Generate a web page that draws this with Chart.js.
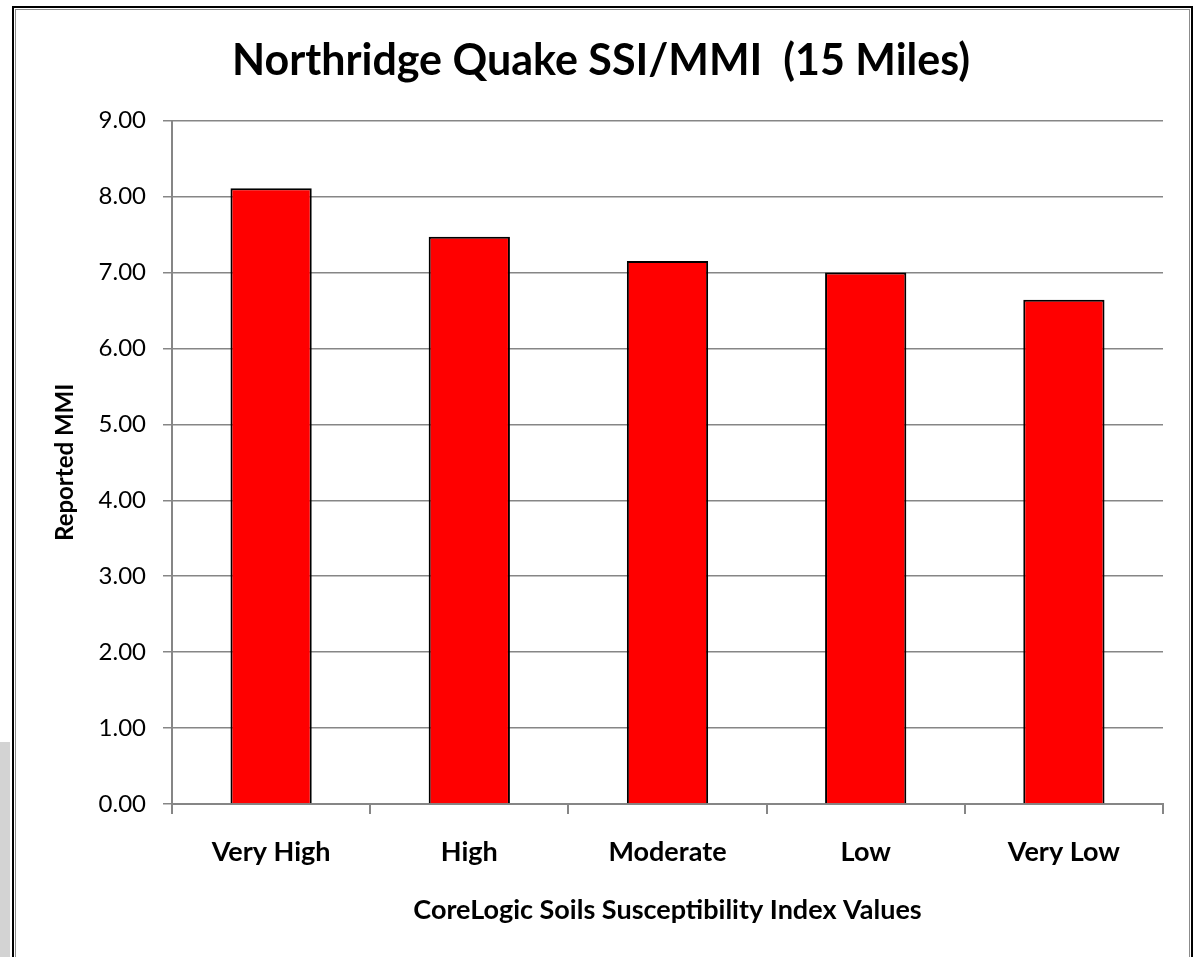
<!DOCTYPE html>
<html>
<head>
<meta charset="utf-8">
<title>Northridge Quake SSI/MMI (15 Miles)</title>
<script src="https://cdn.jsdelivr.net/npm/chart.js@4/dist/chart.umd.min.js"></script>
<style>
  html, body { margin: 0; padding: 0; background: #fff; overflow: hidden; }
  #side { position: absolute; left: 0; top: 742px; width: 10px; height: 215px; background: #d3d3d3; }
  #frame { position: absolute; left: 12px; top: 6px; width: 1177px; height: 1000px; border: 2px solid #000; }
  #frame-inner { position: absolute; left: 1px; top: 1px; right: 1px; bottom: 1px; border: 1px solid #8c8c8c; }
  #wrap { position: absolute; left: 0; top: 0; width: 1197px; height: 957px; }
</style>
</head>
<body>
<div id="side"></div>
<div id="frame"><div id="frame-inner"></div></div>
<div id="wrap"><canvas id="chart"></canvas></div>
<script>
  const categories = ["Very High", "High", "Moderate", "Low", "Very Low"];
  const mmiValues = [8.11, 7.47, 7.15, 7.00, 6.64];
  const yTicks = [0, 1, 2, 3, 4, 5, 6, 7, 8, 9];

  const FONT = "Lato, 'Open Sans', sans-serif";
  const gridGray = "#868686";

  new Chart(document.getElementById("chart"), {
    type: "bar",
    data: {
      labels: categories,
      datasets: [{
        label: "Reported MMI",
        data: mmiValues,
        backgroundColor: "#ff0000",
        borderColor: "#000000",
        borderWidth: 2,
        barPercentage: 0.41,
        categoryPercentage: 1
      }]
    },
    options: {
      responsive: true,
      maintainAspectRatio: false,
      animation: false,
      layout: { padding: { left: 39, right: 34, top: 0, bottom: 0 } },
      plugins: {
        legend: { display: false },
        tooltip: { enabled: false },
        title: {
          display: true,
          text: "Northridge Quake SSI/MMI  (15 Miles)",
          color: "#000",
          font: { family: FONT, size: 43, weight: "bold", lineHeight: 1.2 },
          padding: { top: 35, bottom: 34 }
        }
      },
      scales: {
        x: {
          grid: {
            display: true,
            drawOnChartArea: false,
            drawTicks: true,
            tickLength: 10,
            color: gridGray,
            lineWidth: 2,
            offset: true
          },
          border: { display: true, color: gridGray, width: 2 },
          ticks: {
            color: "#000",
            padding: 22,
            font: { family: FONT, size: 27, weight: "bold", lineHeight: 1.2 }
          },
          title: {
            display: true,
            text: "CoreLogic Soils Susceptibility Index Values",
            color: "#000",
            font: { family: FONT, size: 27, weight: "bold", lineHeight: 1.2 },
            padding: { top: 0, bottom: 31 }
          },
          afterFit: function (scale) { scale.height = 153; }
        },
        y: {
          min: 0,
          max: 9,
          afterBuildTicks: function (scale) {
            scale.ticks = yTicks.map(function (v) { return { value: v }; });
          },
          grid: {
            color: gridGray,
            lineWidth: 1.5,
            drawTicks: true,
            tickLength: 9
          },
          border: { display: true, color: gridGray, width: 2 },
          ticks: {
            color: "#000",
            padding: 17,
            font: { family: FONT, size: 24, lineHeight: 1.2 },
            callback: function (v) { return Number(v).toFixed(2); }
          },
          title: {
            display: true,
            text: "Reported MMI",
            color: "#000",
            font: { family: FONT, size: 24, weight: "bold", lineHeight: 1.2 },
            padding: { top: 12, bottom: 0 }
          },
          afterFit: function (scale) { scale.width = 133; }
        }
      }
    }
  });
</script>
</body>
</html>
